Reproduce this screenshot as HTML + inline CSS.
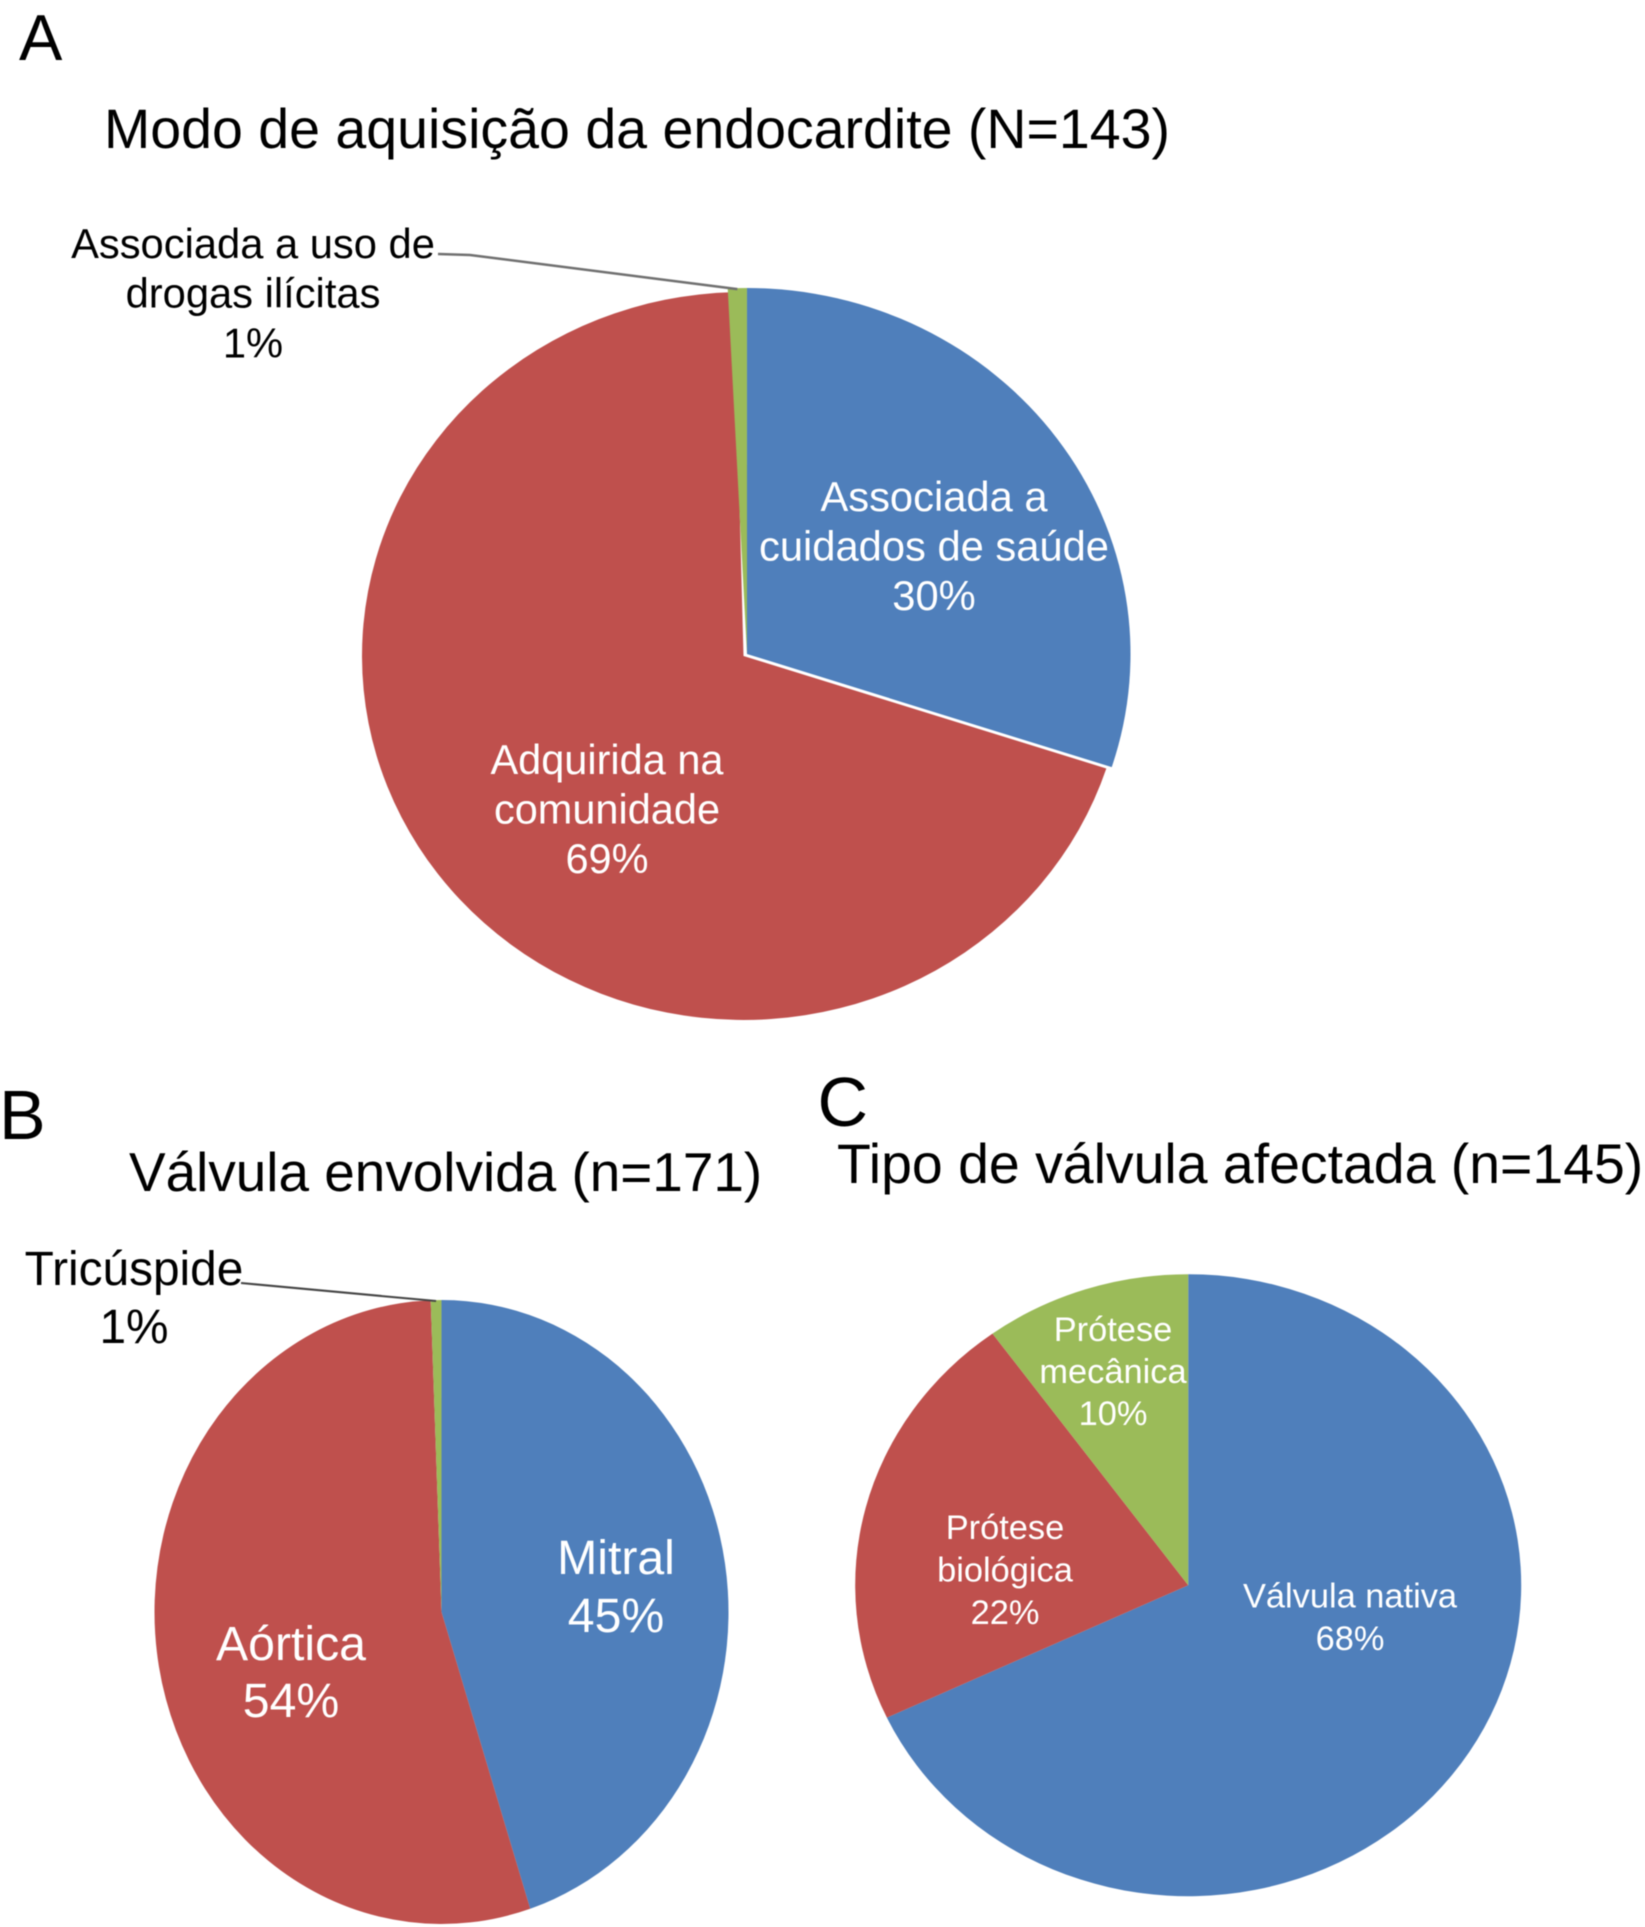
<!DOCTYPE html>
<html lang="pt">
<head>
<meta charset="utf-8">
<title>Endocardite</title>
<style>
html,body{margin:0;padding:0;background:#fff;}
svg{display:block;filter:blur(0.5px);}
text{font-family:"Liberation Sans",sans-serif;}
</style>
</head>
<body>
<svg id="figure" xmlns="http://www.w3.org/2000/svg" width="1645" height="1927" viewBox="0 0 1645 1927">
  <rect x="0" y="0" width="1645" height="1927" fill="#ffffff"/>
  <text x="19" y="60" font-size="65" fill="#000">A</text>
  <text x="104" y="148" font-size="55.5" fill="#000">Modo de aquisição da endocardite (N=143)</text>
  <text x="-1" y="1139" font-size="70" fill="#000">B</text>
  <text x="129" y="1191" font-size="54.9" fill="#000">Válvula envolvida (n=171)</text>
  <text x="817.5" y="1126" font-size="70" fill="#000">C</text>
  <text x="837" y="1183" font-size="55.4" fill="#000">Tipo de válvula afectada (n=145)</text>
  <g id="charts"></g>
</svg>
<script>
const panelACategories = [["Associada a", "cuidados de saúde"], ["Adquirida na", "comunidade"], ["Associada a uso de", "drogas ilícitas"]];
const panelAValues = [30, 69.2, 0.8];
const panelBCategories = [["Mitral"], ["Aórtica"], ["Tricúspide"]];
const panelBValues = [45, 54.4, 0.6];
const panelCCategories = [["Válvula nativa"], ["Prótese", "biológica"], ["Prótese", "mecânica"]];
const panelCValues = [68, 22, 10];
const sliceColors = ["#4f7fbb", "#bf504d", "#9bbb59"];

const SVG_NS = "http://www.w3.org/2000/svg";
const chartsRoot = document.getElementById("charts");

function pointOnPie(geom, fraction) {
  const angle = fraction * 2 * Math.PI;
  return {
    x: geom.cx + geom.rx * Math.sin(angle),
    y: geom.cy - geom.ry * Math.cos(angle)
  };
}

function slicePath(geom, startFraction, endFraction) {
  const a = pointOnPie(geom, startFraction);
  const b = pointOnPie(geom, endFraction);
  const large = endFraction - startFraction > 0.5 ? 1 : 0;
  return "M" + geom.cx + " " + geom.cy + " L" + a.x + " " + a.y +
    " A" + geom.rx + " " + geom.ry + " 0 " + large + " 1 " + b.x + " " + b.y + " Z";
}

function drawPie(panel, categories, values, geom, labelLayouts, leader) {
  const total = values.reduce(function (s, v) { return s + v; }, 0);
  const group = document.createElementNS(SVG_NS, "g");
  
  
  chartsRoot.appendChild(group);

  let cumulative = 0;
  const bounds = values.map(function (v) {
    const start = cumulative / total;
    cumulative += v;
    return [start, cumulative / total];
  });

  bounds.forEach(function (b, i) {
    const sliceGeom = (geom.perSlice && geom.perSlice[i]) || geom;
    const tuck = (geom.tuck && geom.tuck[i]) || 0;
    const path = document.createElementNS(SVG_NS, "path");
    path.setAttribute("d", slicePath(sliceGeom, b[0], Math.min(b[1] + tuck, 0.99999)));
    path.setAttribute("fill", sliceColors[i]);
    
    
    group.appendChild(path);
  });

  if (leader) {
    const leaderGeom = (geom.perSlice && geom.perSlice[leader.slice]) || geom;
    const mid = pointOnPie(leaderGeom, (bounds[leader.slice][0] + bounds[leader.slice][1]) / 2);
    const line = document.createElementNS(SVG_NS, "polyline");
    line.setAttribute("points", leader.from + " " + mid.x + "," + (mid.y + 1));
    line.setAttribute("fill", "none");
    line.setAttribute("stroke", leader.color);
    line.setAttribute("stroke-width", leader.width);
    
    
    group.appendChild(line);
  }

  categories.forEach(function (lines, i) {
    const layout = labelLayouts[i];
    const allLines = lines.concat([Math.round(values[i]) + "%"]);
    const text = document.createElementNS(SVG_NS, "text");
    text.setAttribute("text-anchor", "middle");
    text.setAttribute("font-size", layout.size);
    text.setAttribute("fill", layout.color);
    
    
    allLines.forEach(function (content, k) {
      const span = document.createElementNS(SVG_NS, "tspan");
      span.setAttribute("x", layout.x);
      span.setAttribute("y", layout.y + k * layout.step);
      span.textContent = content;
      text.appendChild(span);
    });
    group.appendChild(text);
  });
}

drawPie("a", panelACategories, panelAValues,
  {
    cx: 746, cy: 655, rx: 384, ry: 367,
    perSlice: [
      { cx: 747, cy: 654, rx: 383.5, ry: 366 },
      { cx: 743.5, cy: 656, rx: 381.5, ry: 364 },
      { cx: 747, cy: 654, rx: 383.5, ry: 366 }
    ],
    tuck: [0, 0.004, 0]
  },
  [
    { x: 934, y: 511, step: 49.5, size: 41.7, color: "#ffffff" },
    { x: 607, y: 774, step: 49.5, size: 41.5, color: "#ffffff" },
    { x: 253, y: 258, step: 49.7, size: 41.7, color: "#000000" }
  ],
  { slice: 2, from: "438,254 470,255", color: "#707070", width: 2.5 });

drawPie("b", panelBCategories, panelBValues,
  { cx: 441.5, cy: 1612, rx: 287, ry: 312 },
  [
    { x: 616, y: 1574, step: 58, size: 48.2, color: "#ffffff" },
    { x: 291, y: 1660, step: 57, size: 48.2, color: "#ffffff" },
    { x: 134, y: 1285, step: 58, size: 47.8, color: "#000000" }
  ],
  { slice: 2, from: "241,1283", color: "#444444", width: 2 });

drawPie("c", panelCCategories, panelCValues,
  { cx: 1188.2, cy: 1585.2, rx: 333, ry: 311 },
  [
    { x: 1350, y: 1607.5, step: 42.5, size: 34.4, color: "#ffffff" },
    { x: 1005, y: 1539, step: 42.5, size: 34.4, color: "#ffffff" },
    { x: 1113, y: 1341, step: 42, size: 34.4, color: "#ffffff" }
  ],
  null);
</script>
</body>
</html>
